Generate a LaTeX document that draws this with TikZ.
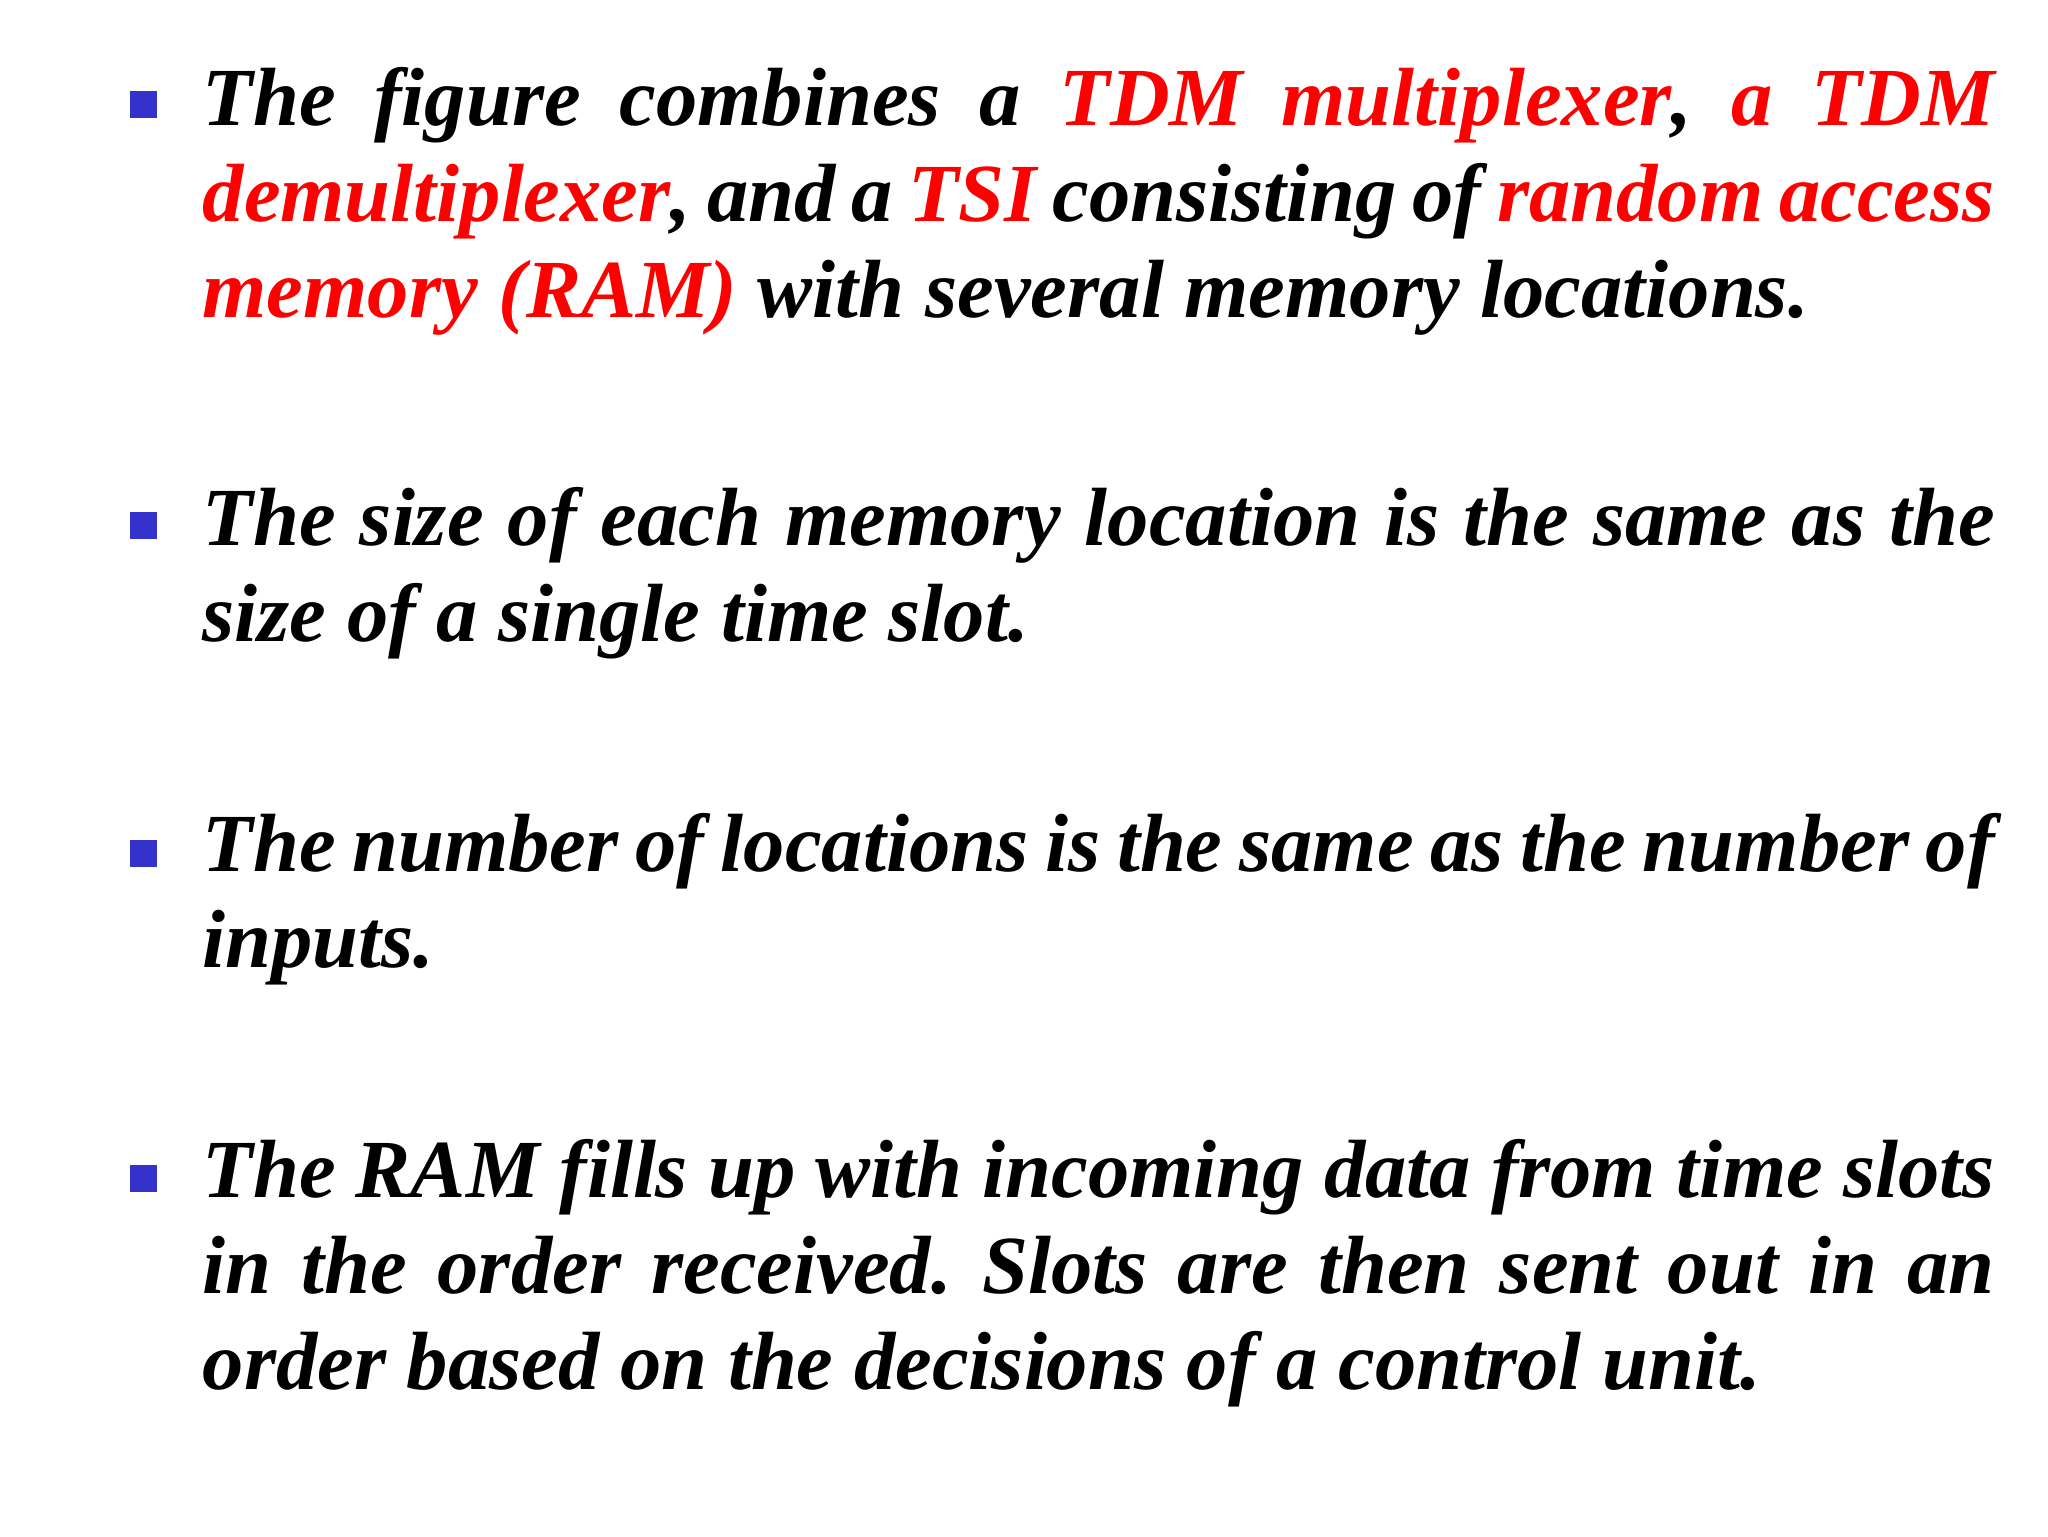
\documentclass[tikz,border=0pt]{standalone}
\usepackage{fontspec}
\setmainfont{Liberation Serif}
\definecolor{bul}{HTML}{3333CC}
\definecolor{hl}{HTML}{FF0000}
\newcommand{\hr}[1]{\textcolor{hl}{#1}}
\hyphenpenalty=10000
\frenchspacing
\begin{document}
\begin{tikzpicture}[x=1mm,y=1mm,
  para/.style={anchor=north west,inner sep=0pt,text width=179.2mm,align=justify,
    font=\fontsize{23.5}{27.3}\selectfont\bfseries\itshape},
  bullet/.style={fill=bul,minimum size=2.7mm,inner sep=0pt}]
\useasboundingbox[fill=white] (0,0) rectangle (204.8,-153.6);
\node[bullet] (b1) at (14.3,-10.4) {};
\node[bullet] (b2) at (14.3,-52.5) {};
\node[bullet] (b3) at (14.3,-85.3) {};
\node[bullet] (b4) at (14.3,-117.8) {};
\node[para] (p1) at (20.2,-5.8) {\strut The figure combines a \hr{TDM multiplexer}, \hr{a TDM}\linebreak \hr{demultiplexer}, and a \hr{TSI} consisting of \hr{random access}\linebreak \hr{memory (RAM)} with several memory locations.};
\node[para] (p2) at (20.2,-47.8) {\strut The size of each memory location is the same as the\linebreak size of a single time slot.};
\node[para] (p3) at (20.2,-80.4) {\strut The number of locations is the same as the number of\linebreak inputs.};
\node[para] (p4) at (20.2,-113.0) {\strut The RAM fills up with incoming data from time slots\linebreak in the order received. Slots are then sent out in an\linebreak order based on the decisions of a control unit.};
\end{tikzpicture}
\end{document}
